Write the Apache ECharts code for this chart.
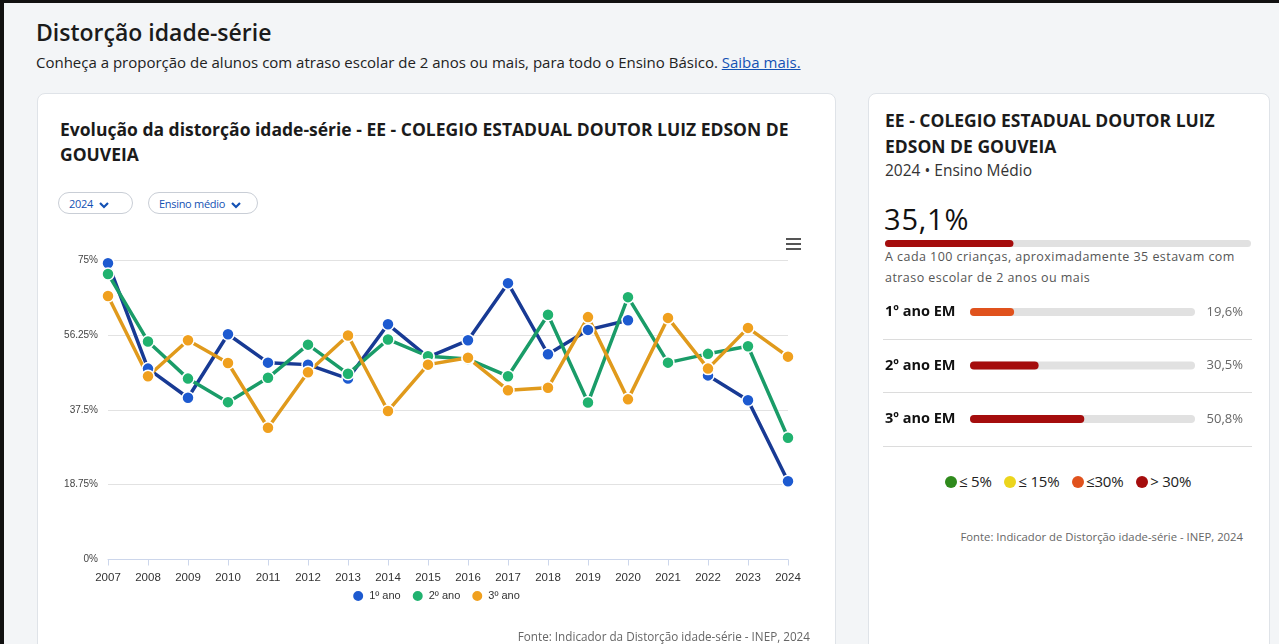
<!DOCTYPE html>
<html lang="pt-BR">
<head>
<meta charset="utf-8">
<title>Distorção idade-série</title>
<script src="https://cdn.jsdelivr.net/npm/echarts@6/dist/echarts.min.js"></script>
<style>
  html, body { margin: 0; padding: 0; }
  body {
    width: 1279px; height: 644px; overflow: hidden; position: relative;
    background: #f3f5f7; font-family: "Open Sans", "Noto Sans", sans-serif; color: #1b1b1b;
  }
  .frame { position: absolute; left: 0; top: 0; width: 1279px; height: 644px;
    border-top: 3px solid #111; border-left: 4px solid #111; box-sizing: border-box; }
  .abs { position: absolute; white-space: nowrap; }
  .card { position: absolute; background: #fff; border: 1px solid #dfe3e8; border-radius: 8px; }
  h1 { position: absolute; left: 36px; top: 16px; margin: 0; font-size: 23px; font-weight: 600; line-height: 32px; }
  .sub { left: 36px; top: 52px; font-size: 15px; line-height: 21px; color: #222; }
  .sub a { color: #1351b4; text-decoration: underline; }
  .ctitle { left: 60px; top: 117px; width: 745px; white-space: normal; font-size: 17.5px; font-weight: 700; line-height: 25px; }
  .pill { position: absolute; top: 192px; height: 22px; border: 1px solid #c9ced6; border-radius: 12px;
    font-size: 11px; color: #1351b4; line-height: 21px; padding: 0 10px; box-sizing: border-box; letter-spacing: -0.3px; }
  .pill svg { vertical-align: -1px; margin-left: 6px; }
  #linha { position: absolute; left: 37px; top: 225px; width: 797px; height: 419px; }
  .fonte { font-size: 11px; color: #666; }
  .rtitle { left: 885px; top: 107px; width: 350px; white-space: normal; font-size: 17.5px; font-weight: 700; line-height: 26px; }
  .rsub { left: 885px; top: 160px; font-size: 15.5px; line-height: 21px; color: #333; }
  .big { left: 884px; top: 199px; font-size: 29px; line-height: 40px; font-weight: 500; color: #111; letter-spacing: 0.8px; }
  .nota { left: 885px; top: 246px; font-size: 12.5px; letter-spacing: 0.45px; color: #555; line-height: 21px; white-space: normal; width: 355px; }
  #barras { position: absolute; left: 868px; top: 230px; width: 400px; height: 230px; }
  .sep { position: absolute; left: 883px; width: 369px; height: 1px; background: #dcdcdc; }
  .leg { left: 945px; top: 471px; font-size: 15px; line-height: 21px; color: #222; letter-spacing: -0.2px; }
  .leg i { display: inline-block; width: 12px; height: 12px; border-radius: 50%; vertical-align: -1px; margin: 0 2px 0 0; }
  .leg span { margin-right: 9px; }
</style>
</head>
<body>
<div class="frame"></div>

<h1>Distorção idade-série</h1>
<div class="abs sub">Conheça a proporção de alunos com atraso escolar de 2 anos ou mais, para todo o Ensino Básico. <a>Saiba mais.</a></div>

<div class="card" style="left:37px; top:93px; width:797px; height:600px;"></div>
<div class="abs ctitle">Evolução da distorção idade-série - EE - COLEGIO ESTADUAL DOUTOR LUIZ EDSON DE GOUVEIA</div>
<div class="pill" style="left:58px; width:75px;">2024<svg width="10" height="8" viewBox="0 0 10 8"><path d="M1 2 L5 6 L9 2" stroke="#1351b4" stroke-width="2.2" fill="none"/></svg></div>
<div class="pill" style="left:148px; width:110px;">Ensino médio<svg width="10" height="8" viewBox="0 0 10 8"><path d="M1 2 L5 6 L9 2" stroke="#1351b4" stroke-width="2.2" fill="none"/></svg></div>
<div id="linha"></div>
<div class="abs fonte" style="right:469px; top:628px; font-size:11.7px;">Fonte: Indicador da Distorção idade-série - INEP, 2024</div>

<div class="card" style="left:868px; top:93px; width:400px; height:600px;"></div>
<div class="abs rtitle">EE - COLEGIO ESTADUAL DOUTOR LUIZ EDSON DE GOUVEIA</div>
<div class="abs rsub">2024 • Ensino Médio</div>
<div class="abs big" id="total"></div>
<div class="abs nota" id="nota"></div>
<div id="barras"></div>
<div class="sep" style="top:339px;"></div>
<div class="sep" style="top:392px;"></div>
<div class="sep" style="top:446px;"></div>
<div class="abs leg">
  <span><i style="background:#2f8a1c"></i>≤ 5%</span>
  <span><i style="background:#ecd51c"></i>≤ 15%</span>
  <span><i style="background:#e0521d"></i>≤30%</span>
  <span><i style="background:#a50d0d"></i>> 30%</span>
</div>
<div class="abs fonte" style="right:36px; top:529px; font-size:11.3px;">Fonte: Indicador de Distorção idade-série - INEP, 2024</div>

<script>
// dados
var anos = ['2007', '2008', '2009', '2010', '2011', '2012', '2013', '2014', '2015',
  '2016', '2017', '2018', '2019', '2020', '2021', '2022', '2023', '2024'];
var ano1 = [74.2, 47.8, 40.5, 56.4, 49.3, 48.8, 45.3, 58.9, 50.7, 54.9, 69.2, 51.4, 57.5, 59.9, null, 46.1, 39.9, 19.6];
var ano2 = [71.5, 54.6, 45.3, 39.4, 45.5, 53.8, 46.5, 55.1, 50.9, 50.2, 45.9, 61.3, 39.3, 65.7, 49.3, 51.5, 53.4, 30.5];
var ano3 = [66.0, 45.9, 54.9, 49.2, 33.0, 46.9, 56.1, 37.2, 48.8, 50.5, 42.4, 43.0, 60.7, 40.1, 60.5, 47.8, 58.0, 50.8];
var yTicks = [0, 18.75, 37.5, 56.25, 75];

var etapas = ['1º ano EM', '2º ano EM', '3º ano EM'];
var taxas = [19.6, 30.5, 50.8];
var taxaTotal = 35.1;

function fmt(v) {
  return v.toFixed(1).replace('.', ',') + '%';
}
// cor por faixa
function corFaixa(v) {
  if (v <= 5) return '#2f8a1c';
  if (v <= 15) return '#ecd51c';
  if (v <= 30) return '#e0521d';
  return '#a50d0d';
}

document.getElementById('total').textContent = fmt(taxaTotal);
document.getElementById('nota').textContent = 'A cada 100 crianças, aproximadamente ' +
  Math.round(taxaTotal) + ' estavam com atraso escolar de 2 anos ou mais';

var serieBase = function (nome, dados, corLinha, corPonto) {
  return {
    name: nome,
    type: 'line',
    data: dados,
    symbol: 'circle',
    symbolSize: 12,
    connectNulls: false,
    lineStyle: { width: 3.5, color: corLinha },
    itemStyle: { color: corPonto, borderColor: '#fff', borderWidth: 1.5 }
  };
};

var chart = echarts.init(document.getElementById('linha'));
chart.setOption({
  animation: false,
  textStyle: { fontFamily: '"Liberation Sans", Arial, sans-serif' },
  grid: { left: 71, right: 46, top: 35, bottom: 84.5 },
  legend: {
    bottom: 36,
    left: 'center',
    icon: 'circle',
    itemWidth: 12,
    itemHeight: 12,
    itemGap: 10,
    textStyle: { fontSize: 11, color: '#333' },
    data: ['1º ano', '2º ano', '3º ano']
  },
  graphic: [{
    type: 'group',
    right: 33,
    top: 13,
    children: [
      { type: 'rect', shape: { x: 0, y: 0, width: 15, height: 2 }, style: { fill: '#555' } },
      { type: 'rect', shape: { x: 0, y: 5, width: 15, height: 2 }, style: { fill: '#555' } },
      { type: 'rect', shape: { x: 0, y: 10, width: 15, height: 2 }, style: { fill: '#555' } }
    ]
  }],
  xAxis: {
    type: 'category',
    data: anos,
    boundaryGap: false,
    axisLine: { lineStyle: { color: '#ccd6eb' } },
    axisTick: { show: true, length: 6, lineStyle: { color: '#ccd6eb' } },
    axisLabel: { fontSize: 11.5, color: '#333', margin: 12 }
  },
  yAxis: {
    type: 'value',
    min: yTicks[0],
    max: yTicks[yTicks.length - 1],
    interval: yTicks[1] - yTicks[0],
    axisLabel: { fontSize: 10, color: '#444', margin: 10, formatter: function (v) { return v + '%'; } },
    splitLine: { lineStyle: { color: '#e2e2e2', width: 1 } }
  },
  series: [
    serieBase('1º ano', ano1, '#183a94', '#1d5ad0'),
    serieBase('2º ano', ano2, '#1a9c68', '#20b26f'),
    serieBase('3º ano', ano3, '#e09a1c', '#f0a01e')
  ]
});

// barras do painel da direita
var bars = echarts.init(document.getElementById('barras'));
bars.setOption({
  animation: false,
  textStyle: { fontFamily: '"Open Sans", "Noto Sans", sans-serif' },
  grid: [
    { left: 17, width: 366, top: 10, height: 7 },
    { left: 102, width: 225, top: 55.25, height: 160.5 }
  ],
  xAxis: [
    { gridIndex: 0, type: 'value', min: 0, max: 100, show: false },
    { gridIndex: 1, type: 'value', min: 0, max: 100, show: false }
  ],
  yAxis: [
    { gridIndex: 0, type: 'category', data: ['total'], show: false },
    {
      gridIndex: 1, type: 'category', data: etapas, inverse: true,
      axisLine: { show: false }, axisTick: { show: false },
      axisLabel: { align: 'left', margin: 85, fontSize: 14.5, fontWeight: 'bold', color: '#111' }
    },
    {
      gridIndex: 1, type: 'category', position: 'right', inverse: true,
      data: taxas.map(fmt),
      axisLine: { show: false }, axisTick: { show: false },
      axisLabel: { align: 'right', margin: 48, fontSize: 13, color: '#666' }
    }
  ],
  series: [
    {
      type: 'bar', xAxisIndex: 0, yAxisIndex: 0, data: [taxaTotal], barWidth: 7,
      showBackground: true, backgroundStyle: { color: '#e1e1e1', borderRadius: 4 },
      itemStyle: { color: corFaixa(taxaTotal), borderRadius: 4 }
    },
    {
      type: 'bar', xAxisIndex: 1, yAxisIndex: 1, data: taxas, barWidth: 8,
      showBackground: true, backgroundStyle: { color: '#e1e1e1', borderRadius: 4 },
      itemStyle: { color: function (p) { return corFaixa(p.value); }, borderRadius: 4 }
    }
  ]
});
</script>
</body>
</html>
